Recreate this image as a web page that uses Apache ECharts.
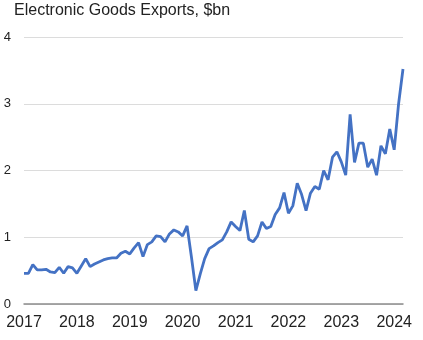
<!DOCTYPE html>
<html><head><meta charset="utf-8">
<script src="https://cdn.jsdelivr.net/npm/echarts@6/dist/echarts.min.js"></script>
<style>html,body{margin:0;padding:0;background:#fff}#c{width:423px;height:340px}</style>
</head><body><div id="c"></div>
<script>
const title = "Electronic Goods Exports, $bn";
const startYear = 2017;
const values = [
  0.46,0.46,0.59,0.51,0.51,0.52,0.48,0.47,0.55,0.46,0.56,0.54,
  0.46,0.57,0.68,0.56,0.60,0.63,0.66,0.68,0.69,0.69,0.76,0.79,
  0.75,0.84,0.92,0.71,0.89,0.93,1.02,1.01,0.93,1.05,1.11,1.08,
  1.02,1.17,0.70,0.20,0.45,0.68,0.83,0.87,0.92,0.96,1.08,1.23,
  1.16,1.10,1.40,0.97,0.93,1.02,1.23,1.13,1.16,1.34,1.44,1.67,
  1.36,1.47,1.81,1.64,1.40,1.66,1.76,1.72,2.00,1.86,2.20,2.28,
  2.13,1.93,2.84,2.12,2.41,2.41,2.05,2.17,1.93,2.37,2.25,2.62,
  2.31,3.00,3.52
];
const yTicks = [0,1,2,3,4];
const months = values.map((v,i)=>{const y=startYear+Math.floor(i/12);const m=i%12+1;return y+'-'+(m<10?'0':'')+m;});
const chart = echarts.init(document.getElementById('c'), null, {renderer:'canvas'});
chart.setOption({
  animation:false,
  title:{text:title,left:14,top:3,padding:0,textStyle:{fontFamily:'Liberation Sans',fontSize:16,fontWeight:'normal',color:'#222'}},
  grid:{left:24,right:20,top:37,bottom:36},
  xAxis:{type:'category',data:months,boundaryGap:false,
    axisLine:{lineStyle:{color:'#8c8c8c',width:1.5}},axisTick:{show:false},
    axisLabel:{interval:11,margin:11,fontFamily:'Liberation Sans',fontSize:16,color:'#222',formatter:v=>v.slice(0,4)},
    splitLine:{show:false}},
  yAxis:{type:'value',min:yTicks[0],max:yTicks[yTicks.length-1],interval:1,
    axisLine:{show:false},axisTick:{show:false},
    axisLabel:{margin:13,fontFamily:'Liberation Sans',fontSize:13,color:'#222'},
    splitLine:{lineStyle:{color:'#dcdcdc',width:1}}},
  series:[{type:'line',data:values,symbol:'none',lineStyle:{color:'#4472C4',width:2.8},itemStyle:{color:'#4472C4'}}]
});
</script></body></html>
